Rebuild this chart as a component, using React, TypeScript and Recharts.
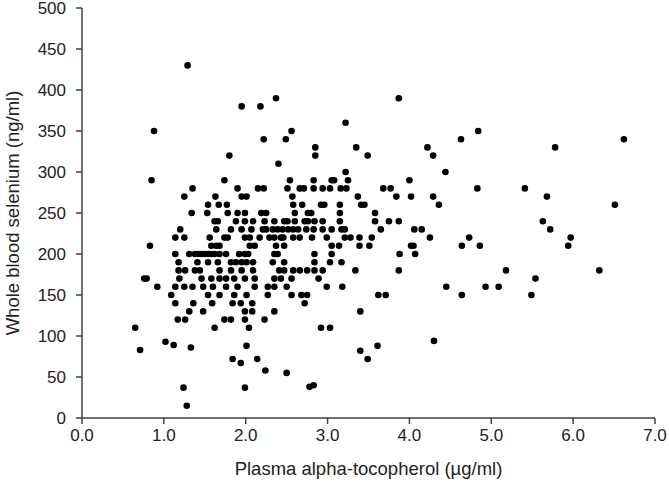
import React from "react";
import { ScatterChart, Scatter, XAxis, YAxis, Label } from "recharts";

// Plasma alpha-tocopherol (x) values grouped by whole blood selenium row (y, ng/ml)
const row430 = [1.29];
const row390 = [2.37, 3.87];
const row380 = [1.95, 2.18];
const row360 = [3.22];
const row350 = [0.88, 2.56, 4.84];
const row340 = [2.22, 2.49, 4.63, 6.62];
const row330 = [2.85, 3.35, 4.22, 5.78];
const row320 = [1.8, 2.85, 3.49, 4.29];
const row310 = [2.4];
const row300 = [3.22, 4.44];
const row290 = [0.85, 1.74, 2.54, 2.83, 3.05, 3.08, 3.25, 4.0];
const row280 = [1.35, 1.9, 2.15, 2.22, 2.51, 2.66, 2.71, 2.83, 2.94, 3.03, 3.16, 3.23, 3.68, 3.77, 4.83, 5.41];
const row270 = [1.25, 1.63, 1.95, 2.01, 2.57, 3.37, 3.84, 4.02, 4.29, 5.68];
const row260 = [1.54, 1.67, 1.77, 2.58, 2.69, 2.92, 2.96, 3.15, 3.41, 3.45, 4.36, 6.51];
const row250 = [1.34, 1.53, 1.78, 1.9, 1.99, 2.19, 2.25, 2.6, 2.76, 2.8, 3.15, 3.58];
const row240 = [1.62, 1.66, 1.88, 1.99, 2.09, 2.23, 2.35, 2.47, 2.51, 2.6, 2.72, 2.76, 2.84, 2.94, 3.15, 3.58, 3.75, 3.87, 5.63];
const row230 = [1.2, 1.64, 1.82, 1.95, 2.07, 2.21, 2.25, 2.33, 2.39, 2.45, 2.52, 2.58, 2.64, 2.74, 2.83, 2.94, 3.05, 3.17, 3.21, 3.65, 4.06, 4.15, 5.72];
const row220 = [1.14, 1.25, 1.56, 1.74, 1.78, 1.99, 2.05, 2.17, 2.29, 2.35, 2.43, 2.46, 2.58, 2.66, 2.81, 2.99, 3.21, 3.28, 3.39, 3.54, 4.25, 4.73, 5.97];
const row210 = [0.83, 1.58, 1.64, 1.68, 2.05, 2.11, 2.37, 2.47, 3.05, 3.14, 3.39, 3.51, 4.02, 4.05, 4.64, 4.86, 5.94];
const row200 = [1.14, 1.31, 1.38, 1.42, 1.46, 1.5, 1.54, 1.58, 1.62, 1.68, 1.76, 1.92, 1.99, 2.03, 2.35, 2.39, 2.84, 3.05, 3.88, 4.07];
const row190 = [1.18, 1.41, 1.54, 1.66, 1.82, 1.88, 1.95, 2.01, 2.09, 2.33, 2.47, 2.84, 3.03, 3.17];
const row180 = [1.18, 1.26, 1.38, 1.44, 1.68, 1.82, 1.95, 2.09, 2.41, 2.47, 2.58, 2.66, 2.75, 2.84, 2.94, 3.34, 3.87, 5.18, 6.32];
const row170 = [0.76, 0.79, 1.19, 1.46, 1.58, 1.68, 1.76, 1.86, 1.99, 2.11, 2.35, 2.43, 2.56, 2.89, 5.54];
const row160 = [0.92, 1.14, 1.25, 1.35, 1.48, 1.6, 1.76, 1.9, 2.11, 2.27, 2.35, 2.5, 2.99, 3.18, 4.45, 4.93, 5.09];
const row150 = [1.09, 1.54, 1.68, 1.86, 2.01, 2.27, 2.56, 2.68, 2.75, 3.62, 3.71, 4.64, 5.49];
const row140 = [1.14, 1.36, 1.59, 1.84, 1.94, 2.08, 2.72];
const row130 = [1.31, 1.48, 1.99, 2.08, 2.35, 3.4];
const row120 = [1.17, 1.26, 1.74, 1.82, 1.99, 2.23];
const row110 = [0.65, 1.62, 2.04, 2.92, 3.03];

// Remaining low points as [x, y]
const lowPoints: [number, number][] = [
  [1.02, 93], [1.12, 89], [1.33, 86], [0.71, 83], [2.01, 88], [3.61, 88],
  [3.4, 82], [3.49, 72], [1.84, 72], [1.94, 67], [2.14, 72], [2.24, 58],
  [2.5, 55], [1.99, 37], [1.24, 37], [1.28, 15], [2.78, 38], [2.83, 40], [4.3, 94],
];

const rowList: [number, number[]][] = [
  [430, row430], [390, row390], [380, row380], [360, row360], [350, row350],
  [340, row340], [330, row330], [320, row320], [310, row310], [300, row300],
  [290, row290], [280, row280], [270, row270], [260, row260], [250, row250],
  [240, row240], [230, row230], [220, row220], [210, row210], [200, row200],
  [190, row190], [180, row180], [170, row170], [160, row160], [150, row150],
  [140, row140], [130, row130], [120, row120], [110, row110],
];

const xTicks = [0, 1, 2, 3, 4, 5, 6, 7];
const yTicks = [0, 50, 100, 150, 200, 250, 300, 350, 400, 450, 500];

const data = [
  ...rowList.flatMap(([y, xs]) => xs.map((x) => ({ x, y }))),
  ...lowPoints.map(([x, y]) => ({ x, y })),
];

const FONT = "'Liberation Sans', Arial, sans-serif";
const AXIS = "#404040";

const Dot = (props: any) => (
  <circle cx={props.cx} cy={props.cy} r={3.3} fill="#000" />
);

export default function App() {
  return (
    <div style={{ position: "absolute", left: 0, top: 0, background: "#fff" }}>
      <ScatterChart
        width={669}
        height={484}
        margin={{ top: 8, right: 14, bottom: 0, left: 0 }}
        style={{ fontFamily: FONT }}
      >
        <XAxis
          type="number"
          dataKey="x"
          domain={[0, 7]}
          ticks={xTicks}
          tickFormatter={(v: number) => v.toFixed(1)}
          axisLine={{ stroke: AXIS, strokeWidth: 1.5 }}
          tickLine={{ stroke: AXIS, strokeWidth: 1.5 }}
          tickSize={6}
          tickMargin={5}
          tick={{ fill: "#222", fontSize: 17, fontFamily: FONT }}
          height={66}
          interval={0}
        >
          <Label
            value="Plasma alpha-tocopherol (µg/ml)"
            position="insideBottom"
            offset={9}
            style={{ fill: "#222", fontSize: 18.5, fontFamily: FONT }}
          />
        </XAxis>
        <YAxis
          type="number"
          dataKey="y"
          domain={[0, 500]}
          ticks={yTicks}
          axisLine={{ stroke: AXIS, strokeWidth: 1.5 }}
          tickLine={{ stroke: AXIS, strokeWidth: 1.5 }}
          tickSize={6}
          tickMargin={10}
          tick={{ fill: "#222", fontSize: 17, fontFamily: FONT }}
          width={82}
          interval={0}
        >
          <Label
            value="Whole blood selenium (ng/ml)"
            angle={-90}
            position="insideLeft"
            offset={12}
            style={{ textAnchor: "middle", fill: "#222", fontSize: 18.5, fontFamily: FONT }}
          />
        </YAxis>
        <Scatter data={data} shape={Dot} isAnimationActive={false} />
      </ScatterChart>
    </div>
  );
}
